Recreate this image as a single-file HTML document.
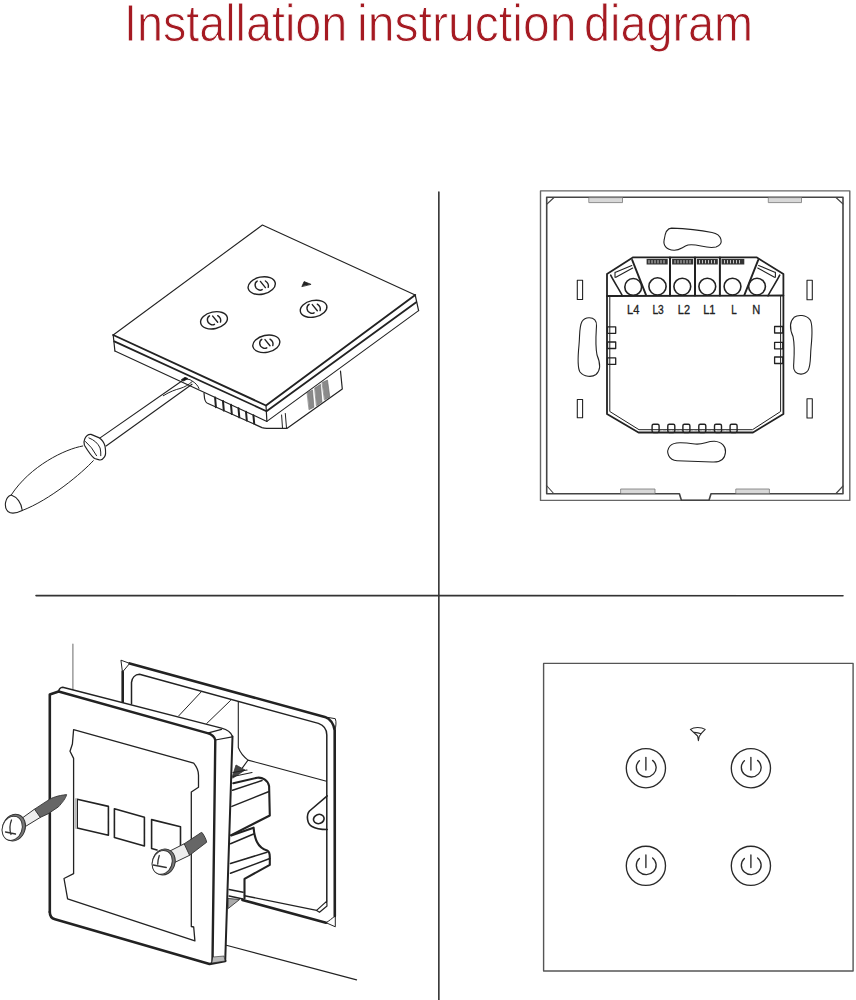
<!DOCTYPE html>
<html><head><meta charset="utf-8">
<style>
html,body{margin:0;padding:0;background:#fff;}
body{width:856px;height:1000px;position:relative;overflow:hidden;}
.tw{position:absolute;top:-7px;font-family:"Liberation Sans",sans-serif;font-size:52px;color:#a51a22;white-space:nowrap;transform-origin:0 0;-webkit-text-stroke:0.9px #fff;}
#w1{left:123.5px;transform:scaleX(0.898);}
#w2{left:356.6px;transform:scaleX(0.926);}
#w3{left:584.2px;transform:scaleX(0.9);}
svg{position:absolute;left:0;top:0;}
</style></head><body>
<div class="tw" id="w1">Installation</div><div class="tw" id="w2">instruction</div><div class="tw" id="w3">diagram</div>
<svg width="856" height="1000" viewBox="0 0 856 1000" fill="none" stroke="#222" stroke-width="1.2" stroke-linejoin="round" stroke-linecap="round">
<!-- dividers -->
<line x1="438.85" y1="192" x2="438.85" y2="1000" stroke="#333" stroke-width="1.6"/>
<line x1="36" y1="595.6" x2="843" y2="595.7" stroke="#333" stroke-width="1.6"/>

<g id="tl">
<!-- base box (behind) -->
<g stroke-width="1.2">
<path d="M204 393 L204.5 398 C205 401 206 403 208 403.5 L262 427.6 C264 428.3 265.5 428.3 266.8 428.3 H287.2 L342.3 389 L340.5 371.2"/>
<path d="M281.6 415 L282.5 428 M285.3 413.5 L286.5 428" stroke-width="1"/>
<path d="M215.1 397.4 L215.9 407.2 M223.0 401.1 L223.8 410.6 M231.0 404.8 L231.8 414.0 M238.5 408.3 L239.3 417.3 M246.0 411.7 L246.8 420.5 M253.4 415.2 L254.2 423.6" stroke-width="2"/>
<g fill="#8a8a8a" stroke="#666" stroke-width="0.6">
<path d="M307.4 392.7 L312.5 389.9 L313.9 407.2 L309.3 409.5 Z"/>
<path d="M314.9 388 L320.5 384.3 L321.9 402 L316.7 405.8 Z"/>
<path d="M322.3 382.4 L327.5 380.1 L329.8 396.9 L324.7 399.7 Z"/>
</g>
</g>
<!-- top face -->
<path d="M113.2 335 L262.4 225 L415.2 295" stroke-width="1.1"/>
<path d="M113.2 335 L266 405.5 L415.2 295" stroke-width="1.9"/>
<path d="M114.3 341.4 L266.5 411.2 L416.2 302.2" stroke-width="1.8"/>
<path d="M114.9 351 L266.9 421.4 L418.6 310.6" stroke-width="1.1"/>
<path d="M113.2 335 L114.9 351 M266 405.5 L266.9 421.4 M415.2 295 L418.6 310.6" stroke-width="1.2"/>
<!-- buttons -->
<g stroke-width="1.4">
<ellipse cx="261.7" cy="285.6" rx="13.8" ry="8.6" transform="rotate(-12 261.7 285.6)"/>
<ellipse cx="214" cy="320.3" rx="13.6" ry="8.4" transform="rotate(-12 214 320.3)"/>
<ellipse cx="266.3" cy="343.8" rx="13.7" ry="8.5" transform="rotate(-12 266.3 343.8)"/>
<ellipse cx="313.6" cy="308.8" rx="13.5" ry="8.3" transform="rotate(-12 313.6 308.8)"/>
</g>
<g stroke-width="1.4" id="pwi">
<path d="M257.2 281.1 C254.3 282.7 254.1 287.8 258.3 289.7 C259.7 290.4 261.2 290.2 262.2 289.6"/>
<path d="M260.4 281.4 L265.4 287.6"/>
<path d="M265.4 281.0 C267.6 282.5 268.9 285.0 268.2 287.4"/>
</g>
<g stroke-width="1.4" transform="translate(-47.7,34.7)">
<path d="M257.2 281.1 C254.3 282.7 254.1 287.8 258.3 289.7 C259.7 290.4 261.2 290.2 262.2 289.6"/>
<path d="M260.4 281.4 L265.4 287.6"/>
<path d="M265.4 281.0 C267.6 282.5 268.9 285.0 268.2 287.4"/>
</g>
<g stroke-width="1.4" transform="translate(4.6,58.2)">
<path d="M257.2 281.1 C254.3 282.7 254.1 287.8 258.3 289.7 C259.7 290.4 261.2 290.2 262.2 289.6"/>
<path d="M260.4 281.4 L265.4 287.6"/>
<path d="M265.4 281.0 C267.6 282.5 268.9 285.0 268.2 287.4"/>
</g>
<g stroke-width="1.4" transform="translate(51.9,23.2)">
<path d="M257.2 281.1 C254.3 282.7 254.1 287.8 258.3 289.7 C259.7 290.4 261.2 290.2 262.2 289.6"/>
<path d="M260.4 281.4 L265.4 287.6"/>
<path d="M265.4 281.0 C267.6 282.5 268.9 285.0 268.2 287.4"/>
</g>
<path d="M302 286.3 L304.1 281.6 L310.7 284.2 Z" fill="#222" stroke-width="0.8"/>
<!-- screwdriver -->
<g stroke-width="1.1">
<path d="M100.1 437.9 L182.9 380.3" />
<path d="M106.1 446 L192 384.2" />
<path d="M163.3 395.7 C170 391.5 176 389.5 180 388.5 C185 387 189 384.5 192 381.7" stroke-width="1"/>
<path d="M183 380.2 C186 378.5 190 379 192 381 C195 382.5 198 385.5 199 388.5" stroke-width="1"/>
<path d="M181.5 379.6 L185 377.3 L188 378.6 L184 380.8 Z" fill="#111" stroke-width="0.8"/>
<path d="M84.7 438.9 Q87 434 91 434.4 L99.4 437.9 Q103.5 440.5 105 446 Q106.5 455 104.3 457.1 Q102 460.5 99.4 459.9 L94.5 458.5 Q91 456 84.4 445.2 Q83.5 441.5 84.7 438.9 Z" stroke-width="1.2"/>
<path d="M85.5 441.5 Q92 447 96.6 455.7 M88.9 437.9 Q97 441 100.1 448 Q101 452 100.8 455.7" stroke-width="1"/>
<path d="M82.7 446 C65 449 30 466 11.2 495 M93.3 460.7 C82 473 50 500 22.2 510.5" stroke-width="1"/>
<path d="M11.2 495 C5 497 3.5 507 8 511.5 C11 514 17 513 22.2 510.5 C21.5 503 17 497 11.2 495 Z" stroke-width="1.1"/>
</g>
</g>
<g id="bl">
<!-- wall lines -->
<path d="M72.9 644 V700" stroke-width="1.1" stroke="#777"/>
<path d="M226.3 945.2 L356.6 979.9" stroke-width="1.1"/>
<!-- back box -->
<g stroke-width="1">
<path d="M121.3 660.3 L129.7 663.4 L122.7 671.8 Z" stroke-width="1"/>
<path d="M324.8 716.9 L335.3 718.7 C336.5 722 336 726 335 730" stroke-width="1"/>
<path d="M129.7 663.4 L324.8 716.9 C329 718.5 333.5 722.5 334.7 730.4 L334.8 916" stroke-width="2.6"/>
<path d="M122.7 671.8 V704" stroke-width="2.6"/>
<path d="M131.5 704 V682.3 C132 678 135 674.5 139.5 674.3 L318.4 723.4 C323 725 326.8 729 326.8 735 V901.1" stroke-width="1.5"/>
<path d="M326.8 901.1 L327 906 L319.5 912.3 L316.6 910.4 Z" stroke-width="1.2"/>
<path d="M244.5 895.7 L316.6 910.4" stroke-width="1.4"/>
<path d="M242.4 899.9 L326 922.7" stroke-width="2.6"/>
<path d="M326 922.7 L335.3 926.8 V915.7 C332 918.5 329 921 326 922.7" stroke-width="1"/>
<path d="M201.1 692 L178.7 715.9 M230.5 700.5 L206.7 723.5" stroke-width="1"/>
<path d="M238.3 701.5 V747.5 C240 752 244 757 248 760.1 L326.5 781.2 M248 760.1 L242.4 767.9" stroke-width="1.1"/>
<!-- ear with hole -->
<path d="M327.2 795.9 L309.5 811 C306 815 307 824 312 826.5 C316 829 322 829.5 327.2 829.5" stroke-width="1.6"/>
<ellipse cx="318.8" cy="819" rx="5.4" ry="4.6" stroke-width="1.6" transform="rotate(-20 318.8 819)"/>
<!-- mechanism -->
<path d="M232.6 776 L236 765 L245 770 L233 778 Z" fill="#444" stroke="#333" stroke-width="0.8"/>
<path d="M233 772.5 L247 770 M233 776.5 L252 772.5" stroke-width="1.2"/>
<path d="M233.3 783.3 L257.2 777.7 C262 777 268 780 269.1 786.1 L269.8 815.5 L231.2 835.1" stroke-width="2.1"/>
<path d="M232.6 790.3 L262 780.5 M231.9 806.4 L268.4 791.7" stroke-width="1.5"/>
<path d="M231.2 835.4 L253.6 827.7 C254 833 255 838 257 842 C259 846 263 849.5 267.7 850.8 C269.5 852 269.8 855 269.8 857 V864.9 L244.5 878.9 V898.5" stroke-width="2.1"/>
<path d="M230.5 843.8 L253.6 834 M230.5 863.5 L267 852.2 M230.5 873.3 L269.8 858.5" stroke-width="1.5"/>
<path d="M229.1 889.4 L243.1 892.2 M229.1 896 L243 899" stroke-width="1.5"/>
<path d="M228.5 898.5 L239.6 899.5 L228.5 908.3 Z" fill="#aaa" stroke-width="0.8"/>
</g>
<!-- front plate -->
<g stroke-width="1.2">
<path d="M58.6 691.5 C59 689 60.5 687.5 62.7 687.3 L221.5 728.1 C227 729.5 231 732 232.5 736.5 L225.2 961 L209.5 964 L55 919.3 C52 918.5 49.8 916.5 49.8 912 V694.6 Z" fill="#fff" stroke="none"/>
<path d="M49.8 912 V694.6 L58.6 691.5" stroke-width="2.6"/>
<path d="M49.8 912 C49.8 916.5 52 918.5 55 919.3 L209.5 964 L225.2 961" stroke-width="2.6"/>
<path d="M58.6 691.5 L207.5 733.1 C211 734.2 214.5 736.5 215.3 740 L212.5 962.5" stroke-width="2.4"/>
<path d="M58.6 691.5 C59 689 60.5 687.5 62.7 687.3 L221.5 728.1 C227 729.5 231 732 232.5 736.5" stroke-width="1.4"/>
<path d="M232.5 736.5 L225.2 961" stroke-width="2"/>
<path d="M207.5 733.1 L221.5 729.3 M215.3 740 L232.3 736.8" stroke-width="1.2"/>
<path d="M213 957 L224 956 L225 961 L212 963 Z" fill="#bbb" stroke-width="0.6"/>
<!-- inner recess -->
<path d="M73.6 729.6 L193.7 763.2 C196 766 198.5 770 198.5 775.2 V787.2 L191.3 792 V926.5 L193.7 927 L194.9 940.9 L67.6 898.9 L64 878.5 L73.6 873.7 V758.4 L70 751.2 L72.4 744 Z" stroke-width="1.3"/>
<!-- squares -->
<path d="M77.2 799.2 L108.4 806.4 V835.2 L77.2 828 Z M114.4 808.8 L144.4 817.2 V846 L114.4 837.6 Z M151.6 819.6 L180.5 826.8 V851 M151.6 819.6 V848.5 L157 850" stroke-width="1.6"/>
<path d="M76 799 V828" stroke="#bbb" stroke-width="2"/>
</g>
<!-- screw 1 (left) -->
<g>
<path d="M34.5 809.2 L47.9 800.4 C52 797.5 58 795.5 66.6 794.6 C66 798 62 803 58.4 806.9 L47.9 813.9 L40.3 817.4 Z" fill="#666" stroke="#333" stroke-width="0.9"/>
<path d="M21.6 818.5 L34.5 809.2 L40.3 817.4 L25.1 826.7 Z" fill="#eee" stroke="#333" stroke-width="1"/>
<ellipse cx="14" cy="827.6" rx="11.2" ry="13.6" transform="rotate(20 14 827.6)" fill="#777" stroke="#333" stroke-width="1"/>
<ellipse cx="12.2" cy="828.3" rx="9.8" ry="12.4" transform="rotate(20 12.2 828.3)" fill="#fff" stroke="#333" stroke-width="1"/>
<path d="M11.5 820 C9.5 825 9.5 830 11 834.5 M5.5 832 L15.5 834" stroke="#333" stroke-width="1.3"/>
</g>
<!-- screw 2 (right) -->
<g>
<path d="M184.2 843.8 L199 834 C200.5 832.8 201.5 832.3 202 832.5 C204.5 836 206 839 206.7 842.2 L189.6 855.3 Z" fill="#666" stroke="#333" stroke-width="0.9"/>
<path d="M169.5 851.2 L184.2 843.8 L189.6 855.3 L174.4 862.6 Z" fill="#eee" stroke="#333" stroke-width="1"/>
<ellipse cx="163.8" cy="862" rx="11.2" ry="13.2" transform="rotate(20 163.8 862)" fill="#777" stroke="#333" stroke-width="1"/>
<ellipse cx="162.2" cy="862.4" rx="9.8" ry="12.2" transform="rotate(20 162.2 862.4)" fill="#fff" stroke="#333" stroke-width="1"/>
<path d="M159.3 855.5 C158.3 858.5 157.8 861.5 157.7 864.2 M153.2 865 L166.3 867.5" stroke="#333" stroke-width="1.3"/>
</g>
</g>
<!-- ========== TOP RIGHT: back plate ========== -->
<g id="tr">
<rect x="540.5" y="190.9" width="309.3" height="309.5" stroke="#666" stroke-width="1.4"/>
<path d="M546.7 197.2 H843 V493.8 H711 L709 500.3 H681.4 L679.4 493.8 H546.7 Z" stroke="#444" stroke-width="1.6"/>
<!-- corner ticks -->
<path d="M547 204 L554 197.5 M836 197.5 L843 204 M546.5 485.5 L553.7 493.5 M836 493.5 L843 486" stroke-width="1.1" stroke="#444"/>
<!-- tabs -->
<g fill="#d8d8d8" stroke="#777" stroke-width="0.8">
<rect x="589.2" y="197.6" width="33.3" height="5"/>
<rect x="768.7" y="197.6" width="32.8" height="5"/>
<rect x="621" y="489" width="34" height="4.5"/>
<rect x="736.2" y="489" width="33.2" height="4.5"/>
</g>
<!-- slots -->
<g stroke-width="1.1">
<rect x="577.3" y="280.3" width="5.3" height="19.2"/>
<rect x="577.3" y="399.5" width="5.3" height="18.2"/>
<rect x="807" y="280.3" width="5.3" height="19.4"/>
<rect x="807" y="398.7" width="5.3" height="19.3"/>
</g>
<!-- beans -->
<g stroke-width="1.1">
<path d="M671.5 228.1 C685 228.5 700 230 712 232.5 C722 234.5 724.5 244 716 247 C706 249.5 697 243 688 245 C682 247 680 250.5 674 250.2 C666 250 663 245 664.2 239.7 C665 233 667 228.2 671.5 228.1 Z"/>
<path d="M670 446 C674 441.5 684 442.5 695 444 C703 445 707 441 714.5 441.3 C722 441.8 726 447 725.5 452 C725 459 720 462.5 712 462 C700 461.5 688 461 677 460.7 C669 460.3 665 452 670 446 Z"/>
<path id="lb" d="M588.9 317.7 C594 317.5 597 321 596.5 326 C596 335 595 345 597 355 C600 362 601 370 596 374.5 C592 377.5 584 377 580 372 C577 367 578 355 579 345 C580 335 579 327 582 321.5 C584 318.5 586 317.8 588.9 317.7 Z"/>
<path d="M588.9 317.7 C594 317.5 597 321 596.5 326 C596 335 595 345 597 355 C600 362 601 370 596 374.5 C592 377.5 584 377 580 372 C577 367 578 355 579 345 C580 335 579 327 582 321.5 C584 318.5 586 317.8 588.9 317.7 Z" transform="translate(1390.1,691.8) scale(-1,-1)"/>
</g>
<!-- terminal block -->
<path d="M607 414 V274 L633.2 257.3 H756.5 L783.4 274 V414 L753 432.5 H638.5 Z" stroke-width="1.8"/>
<path d="M609.8 296 V411.5 L639 429.7 H752.5 L780.6 411.5 V296" stroke-width="1"/>
<line x1="607" y1="296" x2="783.4" y2="295.5" stroke-width="1.8"/>
<!-- circles -->
<g stroke-width="1.6">
<circle cx="633.2" cy="286.9" r="8.4"/>
<circle cx="657.5" cy="286.4" r="8.6"/>
<circle cx="682.3" cy="286.6" r="8.4"/>
<circle cx="707.3" cy="286.6" r="8.4"/>
<circle cx="732.5" cy="286.6" r="8.4"/>
<circle cx="757" cy="286.6" r="8.4"/>
</g>
<!-- dividers -->
<path d="M670 257.5 V295.5 M695 257.5 V295.5 M719.9 257.5 V295.5" stroke-width="2"/>
<!-- left/right screw partitions -->
<path d="M632.2 260 L646 295 M758.2 260 L744.4 295" stroke-width="2"/>
<path d="M610.7 275.2 C614 282 619 289 622.4 295.8 M779.7 275.2 C776.4 282 771.4 289 768 295.8" stroke-width="1.6"/>
<path d="M615 272.4 L631.8 265.5 M615.9 277.3 L632.7 268 M615 272.4 V277.3 M775.4 272.4 L758.6 265.5 M774.5 277.3 L757.7 268 M775.4 272.4 V277.3" stroke-width="1.1"/>
<!-- label strips -->
<g fill="#333" stroke="none">
<rect x="646.6" y="258.9" width="21.1" height="5.6"/>
<rect x="672.1" y="258.9" width="21.1" height="5.6"/>
<rect x="696.8" y="258.9" width="21" height="5.6"/>
<rect x="721.5" y="258.9" width="22.8" height="5.6"/>
</g>
<g stroke="#eee" stroke-width="0.8">
<path d="M649 260.5 v2.5 M652 260.5 v2.5 M655 260.5 v2.5 M658 260.5 v2.5 M661 260.5 v2.5 M664 260.5 v2.5"/>
<path d="M675 260.5 v2.5 M678 260.5 v2.5 M681 260.5 v2.5 M684 260.5 v2.5 M687 260.5 v2.5 M690 260.5 v2.5"/>
<path d="M699.5 260.5 v2.5 M702.5 260.5 v2.5 M705.5 260.5 v2.5 M708.5 260.5 v2.5 M711.5 260.5 v2.5 M714.5 260.5 v2.5"/>
<path d="M724.5 260.5 v2.5 M727.5 260.5 v2.5 M730.5 260.5 v2.5 M733.5 260.5 v2.5 M736.5 260.5 v2.5 M739.5 260.5 v2.5"/>
</g>
<!-- labels -->
<g fill="#222" stroke="#222" stroke-width="0.35" font-family="Liberation Sans" font-size="13.5" text-anchor="middle">
<text x="633.2" y="313.8" textLength="12.3" lengthAdjust="spacingAndGlyphs">L4</text>
<text x="658.1" y="313.8" textLength="11.4" lengthAdjust="spacingAndGlyphs">L3</text>
<text x="683.9" y="313.8" textLength="12.2" lengthAdjust="spacingAndGlyphs">L2</text>
<text x="709.3" y="313.8" textLength="12.3" lengthAdjust="spacingAndGlyphs">L1</text>
<text x="734" y="313.8" textLength="5.5" lengthAdjust="spacingAndGlyphs">L</text>
<text x="756.3" y="313.8" textLength="8" lengthAdjust="spacingAndGlyphs">N</text>
</g>
<!-- side tabs -->
<g stroke-width="1.3">
<rect x="607.5" y="326.8" width="8.2" height="6.5"/>
<rect x="607.5" y="342" width="8.2" height="6.5"/>
<rect x="607.5" y="357.9" width="8.2" height="6.5"/>
<rect x="774.6" y="326.5" width="8.2" height="6.5"/>
<rect x="774.6" y="342.3" width="8.2" height="6.5"/>
<rect x="774.6" y="357" width="8.2" height="6.5"/>
</g>
<!-- bottom tabs -->
<path d="M659 431 H730" stroke="#888" stroke-width="0.9" stroke-dasharray="2 2.5"/>
<g stroke-width="1.4">
<rect x="652.1" y="424.2" width="7" height="8.4" rx="1.5"/>
<rect x="667.8" y="424.2" width="7" height="8.4" rx="1.5"/>
<rect x="682.9" y="424.2" width="7" height="8.4" rx="1.5"/>
<rect x="698.8" y="424.2" width="7" height="8.4" rx="1.5"/>
<rect x="714.5" y="424.2" width="7" height="8.4" rx="1.5"/>
<rect x="730.1" y="424.2" width="7" height="8.4" rx="1.5"/>
</g>
</g>

<!-- ========== BOTTOM RIGHT: front ========== -->
<g id="br">
<rect x="543.6" y="663.4" width="309.5" height="307.6" stroke="#555" stroke-width="1.4"/>
<g id="pw" stroke-width="1.35" stroke="#2a2a2a">
<circle cx="645.9" cy="768.2" r="19.6"/>
<path d="M639.4 760.8 A9.9 9.4 0 1 0 652.6 760.4"/>
<line x1="645.9" y1="757.4" x2="645.9" y2="770"/>
</g>
<g stroke-width="1.35" stroke="#2a2a2a" transform="translate(105,0)">
<circle cx="645.9" cy="768.2" r="19.6"/>
<path d="M639.4 760.8 A9.9 9.4 0 1 0 652.6 760.4"/>
<line x1="645.9" y1="757.4" x2="645.9" y2="770"/>
</g>
<g stroke-width="1.35" stroke="#2a2a2a" transform="translate(0,97.6)">
<circle cx="645.9" cy="768.2" r="19.6"/>
<path d="M639.4 760.8 A9.9 9.4 0 1 0 652.6 760.4"/>
<line x1="645.9" y1="757.4" x2="645.9" y2="770"/>
</g>
<g stroke-width="1.35" stroke="#2a2a2a" transform="translate(105,97.6)">
<circle cx="645.9" cy="768.2" r="19.6"/>
<path d="M639.4 760.8 A9.9 9.4 0 1 0 652.6 760.4"/>
<line x1="645.9" y1="757.4" x2="645.9" y2="770"/>
</g>
<!-- wifi -->
<g stroke-width="1.1" stroke="#2a2a2a">
<path d="M690.4 729.4 C694 727 701 726.8 705.2 729.4 L701.1 733.7 L699.2 736.5 L698.4 740.6 L697.6 736 Z"/>
<path d="M694.2 732.4 C697 732.6 699 733 701.1 733.7"/>
</g>
</g>
</svg>
</body></html>
